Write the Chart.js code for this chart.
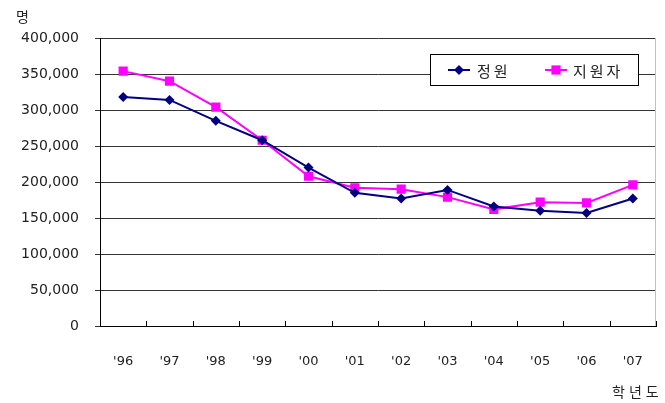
<!DOCTYPE html>
<html>
<head>
<meta charset="utf-8">
<script src="https://cdn.jsdelivr.net/npm/chart.js@4/dist/chart.umd.min.js"></script>
<style>
  html, body { margin: 0; padding: 0; background: #fff; }
  #wrap { width: 665px; height: 403px; }
</style>
</head>
<body>
<div id="wrap"><canvas id="chart" width="665" height="403"></canvas></div>
<script>
const years = ["'96", "'97", "'98", "'99", "'00", "'01", "'02", "'03", "'04", "'05", "'06", "'07"];
const quota = [318000, 314000, 285000, 258000, 220000, 185000, 177000, 189000, 166000, 160000, 157000, 177000];
const applicants = [354000, 340000, 304000, 258000, 208000, 192000, 190000, 179000, 162000, 172000, 171000, 196000];
const seriesNames = ["정원", "지원자"];

const textColor = "#222";
const korFont = "'Noto Sans CJK KR', sans-serif";

// inner tick marks on x axis, grey right edge, legend box, unit labels
const extras = {
  id: "extras",
  afterDraw(chart) {
    const ctx = chart.ctx;
    const area = chart.chartArea;
    const x = chart.scales.x;
    const half = (x.getPixelForValue(1) - x.getPixelForValue(0)) / 2;
    ctx.save();
    ctx.strokeStyle = "#000";
    ctx.lineWidth = 1;
    for (let i = 0; i < years.length; i++) {
      const px = Math.round(x.getPixelForValue(i) + half) + 0.5;
      ctx.beginPath();
      ctx.moveTo(px, area.bottom);
      ctx.lineTo(px, area.bottom - 5);
      ctx.stroke();
    }
    ctx.strokeStyle = "#c0c0c0";
    ctx.beginPath();
    ctx.moveTo(Math.round(area.right) - 0.5, area.top);
    ctx.lineTo(Math.round(area.right) - 0.5, area.bottom);
    ctx.stroke();

    // legend
    const lx = 430.5, ly = 54.5, lw = 208, lh = 31;
    ctx.fillStyle = "#fff";
    ctx.fillRect(lx, ly, lw, lh);
    ctx.strokeStyle = "#000";
    ctx.strokeRect(lx, ly, lw, lh);
    const items = chart.data.datasets;
    const starts = [448, 545];
    const labelX = [477, 573];
    ctx.font = "15px " + korFont;
    ctx.textBaseline = "middle";
    ctx.letterSpacing = "3px";
    items.forEach((ds, i) => {
      const cy = ly + lh / 2;
      ctx.strokeStyle = ds.borderColor;
      ctx.lineWidth = 2;
      ctx.beginPath();
      ctx.moveTo(starts[i], cy);
      ctx.lineTo(starts[i] + 22, cy);
      ctx.stroke();
      ctx.fillStyle = ds.pointBackgroundColor;
      Chart.helpers.drawPoint(ctx, {
        pointStyle: ds.pointStyle, radius: ds.pointRadius, borderWidth: 0
      }, starts[i] + 11, cy);
      ctx.fillStyle = textColor;
      ctx.fillText(ds.label, labelX[i], cy + 1);
    });

    ctx.fillStyle = textColor;
    ctx.font = "14px " + korFont;
    ctx.letterSpacing = "0px";
    ctx.fillText("명", 16, 17);
    ctx.letterSpacing = "4px";
    ctx.fillText("학년도", 612, 392);
    ctx.restore();
  }
};

new Chart(document.getElementById("chart"), {
  type: "line",
  data: {
    labels: years,
    datasets: [
      {
        label: seriesNames[0],
        data: quota,
        borderColor: "#000080",
        backgroundColor: "#000080",
        pointBackgroundColor: "#000080",
        pointBorderWidth: 0,
        pointStyle: "rectRot",
        pointRadius: 5,
        borderWidth: 2,
        tension: 0
      },
      {
        label: seriesNames[1],
        data: applicants,
        borderColor: "#ff00ff",
        backgroundColor: "#ff00ff",
        pointBackgroundColor: "#ff00ff",
        pointBorderWidth: 0,
        pointStyle: "rect",
        pointRadius: 6.5,
        borderWidth: 2,
        tension: 0
      }
    ]
  },
  options: {
    responsive: false,
    animation: false,
    layout: { padding: { top: 38, right: 9, left: 0, bottom: 0 } },
    plugins: {
      legend: { display: false },
      tooltip: { enabled: false }
    },
    scales: {
      x: {
        offset: true,
        grid: { display: false },
        border: { display: true, color: "#000", width: 1 },
        ticks: {
          color: textColor,
          font: { family: "'DejaVu Sans'", size: 13 },
          padding: 20,
          maxRotation: 0
        },
        afterFit(scale) { scale.height = 77; }
      },
      y: {
        min: 0,
        max: 400000,
        grid: { color: "#333", lineWidth: 1, tickLength: 5, drawTicks: true },
        border: { display: true, color: "#000", width: 1 },
        ticks: {
          stepSize: 50000,
          color: textColor,
          font: { family: "'DejaVu Sans'", size: 14 },
          padding: 16,
          callback: v => v.toLocaleString("en-US")
        },
        afterFit(scale) { scale.width = 100; }
      }
    }
  },
  plugins: [extras]
});
</script>
</body>
</html>
